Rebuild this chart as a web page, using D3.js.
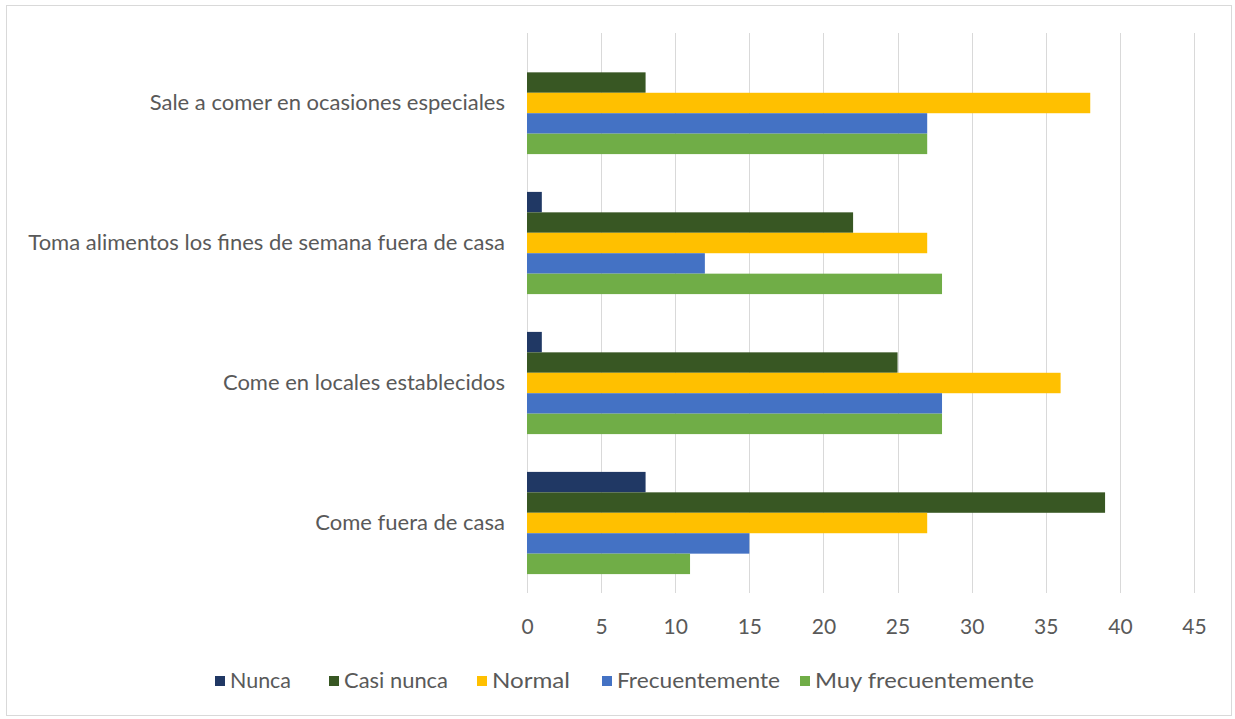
<!DOCTYPE html>
<html>
<head>
<meta charset="utf-8">
<script src="https://cdn.jsdelivr.net/npm/d3@7"></script>
<style>
  html, body { margin: 0; padding: 0; background: #fff; }
  svg { display: block; }
  text { font-family: Lato, "Open Sans", sans-serif; fill: #595959; }
</style>
</head>
<body>
<svg id="chart" width="1235" height="719"></svg>
<script>
const categories = [
  "Sale a comer en ocasiones especiales",
  "Toma alimentos los fines de semana fuera de casa",
  "Come en locales establecidos",
  "Come fuera de casa"
];
const seriesNames = ["Nunca", "Casi nunca", "Normal", "Frecuentemente", "Muy frecuentemente"];
const nunca          = [0, 1, 1, 8];
const casiNunca      = [8, 22, 25, 39];
const normal         = [38, 27, 36, 27];
const frecuentemente = [27, 12, 28, 15];
const muyFrecuente   = [27, 28, 28, 11];
const tickValues = [0, 5, 10, 15, 20, 25, 30, 35, 40, 45];
const colors = ["#203864", "#385723", "#FFC000", "#4472C4", "#70AD47"];

const seriesValues = [nunca, casiNunca, normal, frecuentemente, muyFrecuente];

const svg = d3.select("#chart");

// frame
svg.append("rect").attr("x", 6.5).attr("y", 5.5).attr("width", 1225).attr("height", 710)
  .attr("fill", "#fff").attr("stroke", "#d9d9d9").attr("stroke-width", 1);

const plot = { left: 527, right: 1194, top: 33, bottom: 593 };

const x = d3.scaleLinear().domain([0, 45]).range([plot.left, plot.right]);
const y0 = d3.scaleBand().domain(categories).range([plot.top, plot.bottom])
  .paddingInner(0.27).paddingOuter(0.135);
const y1 = d3.scaleBand().domain(seriesNames).range([0, y0.bandwidth()]);

// gridlines
svg.append("g").selectAll("line").data(tickValues).join("line")
  .attr("x1", d => Math.round(x(d)) + 0.5).attr("x2", d => Math.round(x(d)) + 0.5)
  .attr("y1", plot.top).attr("y2", plot.bottom)
  .attr("stroke", "#d9d9d9").attr("stroke-width", 1);

// bars
const groups = svg.append("g").selectAll("g").data(categories).join("g")
  .attr("transform", d => `translate(0,${y0(d)})`);
groups.selectAll("rect")
  .data((c, i) => seriesNames.map((s, j) => ({ s, j, v: seriesValues[j][i] })))
  .join("rect")
  .attr("x", x(0))
  .attr("y", d => y1(d.s))
  .attr("width", d => x(d.v) - x(0))
  .attr("height", y1.bandwidth())
  .attr("fill", d => colors[d.j]);

// x axis labels
const xAxis = d3.axisBottom(x).tickValues(tickValues).tickSize(0).tickPadding(0);
const gx = svg.append("g").attr("transform", `translate(0,${plot.bottom + 22})`).call(xAxis);
gx.select(".domain").remove();
gx.selectAll("text").style("font-size", "21px").style("fill", "#595959")
  .style("font-family", "Lato, 'Open Sans', sans-serif").attr("dy", "0.35em").attr("y", 12);

// y axis labels
const yAxis = d3.axisLeft(y0).tickSize(0).tickPadding(22);
const gy = svg.append("g").attr("transform", `translate(${plot.left},0)`).call(yAxis);
gy.select(".domain").remove();
gy.selectAll("text").style("font-size", "22px").style("fill", "#595959")
  .style("font-family", "Lato, 'Open Sans', sans-serif");

// legend
const legendX = [215, 329, 477, 602, 800];
const legendTextW = [61, 104, 78, 163, 219];
const legend = svg.append("g").attr("transform", "translate(0,681)");
const li = legend.selectAll("g").data(seriesNames).join("g")
  .attr("transform", (d, i) => `translate(${legendX[i]},0)`);
li.append("rect").attr("x", 0).attr("y", -5).attr("width", 10).attr("height", 10)
  .attr("fill", (d, i) => colors[i]);
li.append("text").attr("x", 15).attr("y", 0).attr("dy", "0.35em")
  .style("font-size", "21px")
  .attr("textLength", (d, i) => legendTextW[i]).attr("lengthAdjust", "spacingAndGlyphs")
  .text(d => d);
</script>
</body>
</html>
